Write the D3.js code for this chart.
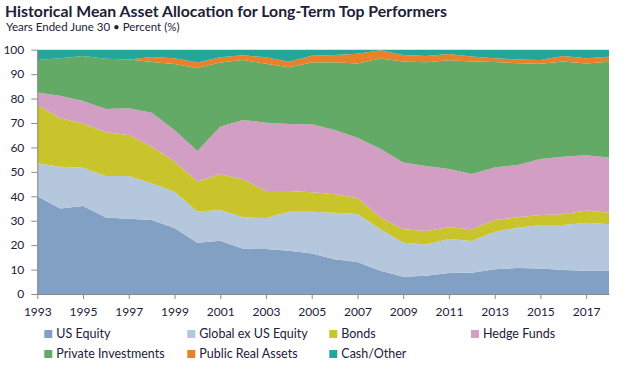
<!DOCTYPE html>
<html>
<head>
<meta charset="utf-8">
<script src="https://cdn.jsdelivr.net/npm/d3@7"></script>
<style>
  body { margin: 0; background: #fff; }
  text { font-family: Lato, "Open Sans", sans-serif; }
</style>
</head>
<body>
<div id="chart"></div>
<script>
var years = [1993, 1994, 1995, 1996, 1997, 1998, 1999, 2000, 2001, 2002, 2003, 2004, 2005,
             2006, 2007, 2008, 2009, 2010, 2011, 2012, 2013, 2014, 2015, 2016, 2017, 2018];

var usEquity     = [40, 35, 36, 31.3, 30.8, 30.3, 27, 21, 21.8, 18.5, 18.4, 17.7, 16.6,
                    14.2, 13.1, 9.5, 7.1, 7.5, 8.6, 8.7, 10.1, 10.6, 10.4, 9.8, 9.5, 9.5];
var globalEquity = [13.5, 17.1, 15.7, 17.0, 17.5, 15.0, 14.9, 12.8, 12.6, 12.9, 12.7, 16.0, 17.1,
                    19.1, 19.6, 17.0, 13.9, 12.8, 13.9, 13.0, 15.4, 16.5, 17.8, 18.4, 19.7, 19.1];
var bonds        = [23.9, 19.8, 18.1, 17.9, 16.8, 15.0, 12.3, 12.3, 14.6, 15.5, 11.1, 8.5, 7.9,
                    7.5, 6.6, 4.9, 5.5, 5.5, 4.8, 4.8, 4.8, 4.3, 4.1, 4.4, 5.0, 4.7];
var hedgeFunds   = [5.1, 9.3, 9.2, 9.5, 10.9, 13.9, 12.9, 12.4, 19.5, 24.3, 27.9, 27.4, 27.9,
                    26.3, 24.7, 28.1, 27.3, 26.6, 23.9, 22.6, 21.5, 21.4, 23.0, 23.6, 22.6, 22.6];
var privateInv   = [13.3, 15.3, 18.4, 20.6, 20.0, 20.8, 27.0, 34.0, 26.3, 24.6, 24.1, 23.2, 25.3,
                    27.8, 30.4, 36.9, 41.4, 42.5, 44.5, 46.1, 43.2, 41.7, 39.0, 39.0, 37.6, 39.2];
var publicReal   = [0, 0, 0, 0, 0, 2.0, 2.4, 2.3, 2.1, 1.9, 2.7, 2.3, 2.7,
                    2.9, 3.9, 3.4, 2.6, 2.5, 2.5, 2.0, 1.5, 1.5, 1.5, 2.2, 2.1, 2.0];
var cashOther    = [4.2, 3.5, 2.6, 3.7, 4.0, 3.0, 3.5, 5.2, 3.1, 2.3, 3.1, 4.9, 2.5,
                    2.2, 1.7, 0.2, 2.2, 2.6, 1.8, 2.8, 3.5, 4.0, 4.2, 2.6, 3.5, 2.9];

var seriesNames = ["US Equity", "Global ex US Equity", "Bonds", "Hedge Funds",
                   "Private Investments", "Public Real Assets", "Cash/Other"];
var seriesValues = [usEquity, globalEquity, bonds, hedgeFunds, privateInv, publicReal, cashOther];
var colors = ["#81a0c3", "#b4c7dc", "#c9c42c", "#d29ec3", "#62aa66", "#e8822a", "#26a69a"];

var xTicks = [1993, 1995, 1997, 1999, 2001, 2003, 2005, 2007, 2009, 2011, 2013, 2015, 2017];
var yTicks = [0, 10, 20, 30, 40, 50, 60, 70, 80, 90, 100];

var width = 625, height = 370;
var textColor = "#1c2038";

// table for d3.stack
var rows = years.map(function(y, i) {
  var r = { year: y };
  seriesNames.forEach(function(n, k) { r[n] = seriesValues[k][i]; });
  return r;
});

var svg = d3.select("#chart").append("svg")
  .attr("width", width)
  .attr("height", height);

var x = d3.scaleLinear().domain([1993, 2018]).range([37.3, 609]);
var y = d3.scaleLinear().domain([0, 100]).range([294, 49.7]);

var stacked = d3.stack().keys(seriesNames)(rows);

var area = d3.area()
  .x(function(d) { return x(d.data.year); })
  .y0(function(d) { return y(d[0]); })
  .y1(function(d) { return y(Math.min(d[1], 100)); });

svg.append("g").selectAll("path")
  .data(stacked)
  .join("path")
  .attr("fill", function(d, i) { return colors[i]; })
  .attr("d", area);

// title
svg.append("text")
  .attr("x", 5)
  .attr("y", 17)
  .attr("font-size", 15.8)
  .attr("font-weight", "bold")
  .attr("fill", textColor)
  .text("Historical Mean Asset Allocation for Long-Term Top Performers");

svg.append("text")
  .attr("x", 6)
  .attr("y", 31)
  .attr("font-size", 11.5)
  .attr("fill", textColor)
  .text("Years Ended June 30 \u2022 Percent (%)");

// axes
var xAxis = svg.append("g")
  .attr("transform", "translate(0,294)")
  .call(d3.axisBottom(x).tickValues(xTicks).tickFormat(d3.format("d"))
    .tickSize(5).tickSizeOuter(0).tickPadding(8));

var yAxis = svg.append("g")
  .attr("transform", "translate(37.3,0)")
  .call(d3.axisLeft(y).tickValues(yTicks).tickSize(6).tickSizeOuter(0).tickPadding(7));

[xAxis, yAxis].forEach(function(a) {
  a.select(".domain").attr("stroke", "#8a8a8a");
  a.selectAll(".tick line").attr("stroke", "#8a8a8a");
  a.selectAll(".tick text")
    .attr("fill", textColor)
    .attr("font-size", 12)
    .attr("font-family", "Lato, 'Open Sans', sans-serif");
});

// legend
var legendPos = [[44.3, 334], [187.3, 334], [329.3, 334], [471, 334],
                 [44.3, 354], [187.3, 354], [329.3, 354]];

var legend = svg.append("g").selectAll("g")
  .data(seriesNames)
  .join("g")
  .attr("transform", function(d, i) {
    return "translate(" + legendPos[i][0] + "," + legendPos[i][1] + ")";
  });

legend.append("rect")
  .attr("x", 0)
  .attr("y", -4)
  .attr("width", 8)
  .attr("height", 8)
  .attr("fill", function(d, i) { return colors[i]; });

legend.append("text")
  .attr("x", 12)
  .attr("y", 0)
  .attr("dy", "0.35em")
  .attr("font-size", 12.5)
  .attr("fill", textColor)
  .text(function(d) { return d; });
</script>
</body>
</html>
